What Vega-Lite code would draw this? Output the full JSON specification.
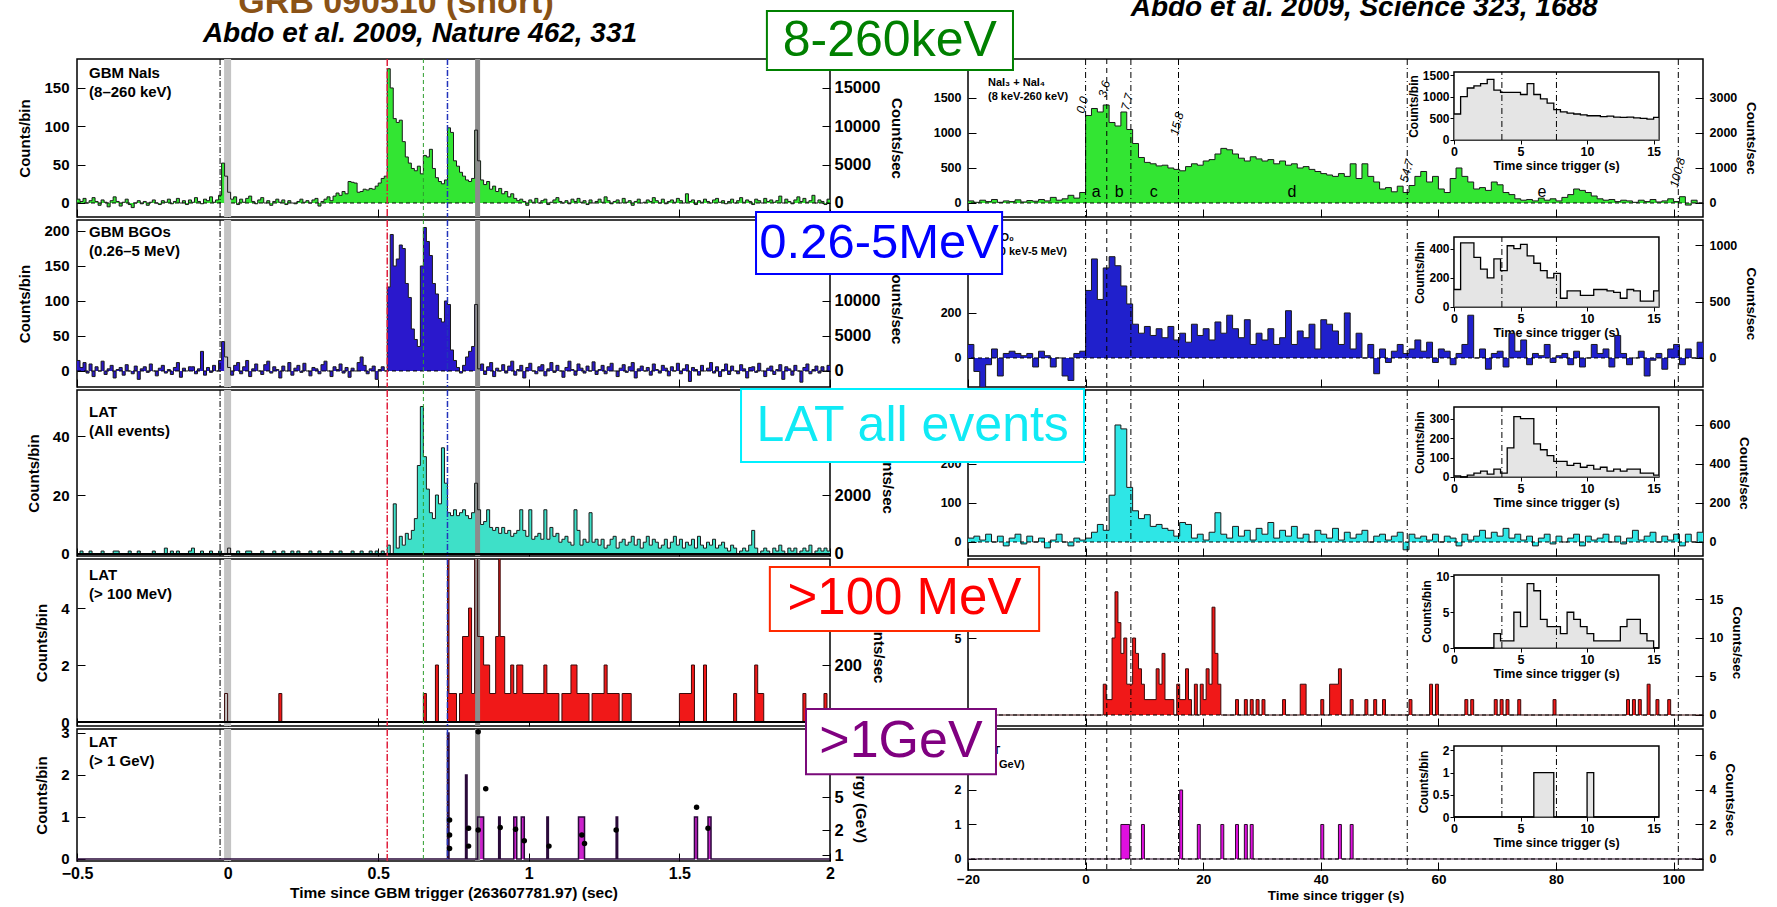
{
"$schema":"https://vega.github.io/schema/vega-lite/v6.json",
"padding":{"left":17,"top":0,"right":0,"bottom":0},
"background":"white",
"columns":2,
"spacing":{"row":3,"column":138},
"bounds":"flush",
"config":{
 "font":"Liberation Sans",
 "view":{"stroke":"#000","strokeWidth":1.5},
 "axis":{"grid":false,"domain":false,"labelFont":"Liberation Sans","labelFontWeight":"bold","labelColor":"#000","titleFont":"Liberation Sans","titleFontWeight":"bold","titleColor":"#000","tickColor":"#000","tickWidth":1,"labelOverlap":false,"labelFlush":false},
 "text":{"font":"Liberation Sans"}
},
"datasets":{
"lp1":[{"t":-0.5,"v":5},{"t":-0.49,"v":2},{"t":-0.48,"v":6},{"t":-0.47,"v":0},{"t":-0.46,"v":3},{"t":-0.45,"v":7},{"t":-0.44,"v":2},{"t":-0.43,"v":-3},{"t":-0.42,"v":4},{"t":-0.41,"v":1},{"t":-0.4,"v":-5},{"t":-0.39,"v":3},{"t":-0.38,"v":8},{"t":-0.37,"v":2},{"t":-0.36,"v":-4},{"t":-0.35,"v":1},{"t":-0.34,"v":5},{"t":-0.33,"v":-2},{"t":-0.32,"v":-6},{"t":-0.31,"v":0},{"t":-0.3,"v":3},{"t":-0.29,"v":-1},{"t":-0.28,"v":2},{"t":-0.27,"v":-3},{"t":-0.26,"v":1},{"t":-0.25,"v":4},{"t":-0.24,"v":0},{"t":-0.23,"v":-2},{"t":-0.22,"v":3},{"t":-0.21,"v":1},{"t":-0.2,"v":5},{"t":-0.19,"v":-1},{"t":-0.18,"v":2},{"t":-0.17,"v":6},{"t":-0.16,"v":0},{"t":-0.15,"v":3},{"t":-0.14,"v":-2},{"t":-0.13,"v":4},{"t":-0.12,"v":1},{"t":-0.11,"v":7},{"t":-0.1,"v":2},{"t":-0.09,"v":-1},{"t":-0.08,"v":5},{"t":-0.07,"v":3},{"t":-0.06,"v":8},{"t":-0.05,"v":1},{"t":-0.04,"v":4},{"t":-0.03,"v":10},{"t":-0.02,"v":52},{"t":-0.01,"v":35},{"t":0,"v":14},{"t":0.01,"v":5},{"t":0.02,"v":8},{"t":0.03,"v":-2},{"t":0.04,"v":5},{"t":0.05,"v":1},{"t":0.06,"v":6},{"t":0.07,"v":9},{"t":0.08,"v":2},{"t":0.09,"v":-1},{"t":0.1,"v":4},{"t":0.11,"v":7},{"t":0.12,"v":0},{"t":0.13,"v":3},{"t":0.14,"v":-3},{"t":0.15,"v":2},{"t":0.16,"v":5},{"t":0.17,"v":1},{"t":0.18,"v":4},{"t":0.19,"v":-2},{"t":0.2,"v":3},{"t":0.21,"v":0},{"t":0.22,"v":-1},{"t":0.23,"v":2},{"t":0.24,"v":5},{"t":0.25,"v":1},{"t":0.26,"v":3},{"t":0.27,"v":0},{"t":0.28,"v":4},{"t":0.29,"v":6},{"t":0.3,"v":-4},{"t":0.31,"v":2},{"t":0.32,"v":5},{"t":0.33,"v":8},{"t":0.34,"v":3},{"t":0.35,"v":9},{"t":0.36,"v":13},{"t":0.37,"v":10},{"t":0.38,"v":15},{"t":0.39,"v":12},{"t":0.4,"v":28},{"t":0.41,"v":27},{"t":0.42,"v":26},{"t":0.43,"v":14},{"t":0.44,"v":15},{"t":0.45,"v":18},{"t":0.46,"v":17},{"t":0.47,"v":19},{"t":0.48,"v":18},{"t":0.49,"v":22},{"t":0.5,"v":26},{"t":0.51,"v":32},{"t":0.52,"v":35},{"t":0.53,"v":175},{"t":0.54,"v":150},{"t":0.55,"v":110},{"t":0.56,"v":105},{"t":0.57,"v":108},{"t":0.58,"v":80},{"t":0.59,"v":60},{"t":0.6,"v":52},{"t":0.61,"v":45},{"t":0.62,"v":42},{"t":0.63,"v":48},{"t":0.64,"v":38},{"t":0.65,"v":62},{"t":0.66,"v":60},{"t":0.67,"v":70},{"t":0.68,"v":45},{"t":0.69,"v":33},{"t":0.7,"v":28},{"t":0.71,"v":25},{"t":0.72,"v":30},{"t":0.73,"v":98},{"t":0.74,"v":92},{"t":0.75,"v":55},{"t":0.76,"v":48},{"t":0.77,"v":40},{"t":0.78,"v":35},{"t":0.79,"v":30},{"t":0.8,"v":28},{"t":0.81,"v":32},{"t":0.82,"v":95},{"t":0.83,"v":55},{"t":0.84,"v":30},{"t":0.85,"v":24},{"t":0.86,"v":28},{"t":0.87,"v":18},{"t":0.88,"v":22},{"t":0.89,"v":15},{"t":0.9,"v":19},{"t":0.91,"v":12},{"t":0.92,"v":15},{"t":0.93,"v":8},{"t":0.94,"v":12},{"t":0.95,"v":6},{"t":0.96,"v":3},{"t":0.97,"v":5},{"t":0.98,"v":2},{"t":0.99,"v":-3},{"t":1,"v":4},{"t":1.01,"v":1},{"t":1.02,"v":6},{"t":1.03,"v":0},{"t":1.04,"v":3},{"t":1.05,"v":5},{"t":1.06,"v":-2},{"t":1.07,"v":1},{"t":1.08,"v":4},{"t":1.09,"v":7},{"t":1.1,"v":2},{"t":1.11,"v":0},{"t":1.12,"v":3},{"t":1.13,"v":-1},{"t":1.14,"v":5},{"t":1.15,"v":2},{"t":1.16,"v":6},{"t":1.17,"v":1},{"t":1.18,"v":3},{"t":1.19,"v":-2},{"t":1.2,"v":4},{"t":1.21,"v":0},{"t":1.22,"v":2},{"t":1.23,"v":5},{"t":1.24,"v":1},{"t":1.25,"v":8},{"t":1.26,"v":3},{"t":1.27,"v":-1},{"t":1.28,"v":2},{"t":1.29,"v":4},{"t":1.3,"v":0},{"t":1.31,"v":6},{"t":1.32,"v":1},{"t":1.33,"v":3},{"t":1.34,"v":-3},{"t":1.35,"v":2},{"t":1.36,"v":5},{"t":1.37,"v":0},{"t":1.38,"v":1},{"t":1.39,"v":4},{"t":1.4,"v":2},{"t":1.41,"v":7},{"t":1.42,"v":3},{"t":1.43,"v":0},{"t":1.44,"v":5},{"t":1.45,"v":-1},{"t":1.46,"v":2},{"t":1.47,"v":4},{"t":1.48,"v":1},{"t":1.49,"v":6},{"t":1.5,"v":3},{"t":1.51,"v":0},{"t":1.52,"v":12},{"t":1.53,"v":2},{"t":1.54,"v":4},{"t":1.55,"v":-2},{"t":1.56,"v":3},{"t":1.57,"v":1},{"t":1.58,"v":5},{"t":1.59,"v":2},{"t":1.6,"v":0},{"t":1.61,"v":4},{"t":1.62,"v":6},{"t":1.63,"v":1},{"t":1.64,"v":3},{"t":1.65,"v":-1},{"t":1.66,"v":2},{"t":1.67,"v":5},{"t":1.68,"v":0},{"t":1.69,"v":3},{"t":1.7,"v":7},{"t":1.71,"v":1},{"t":1.72,"v":4},{"t":1.73,"v":2},{"t":1.74,"v":-2},{"t":1.75,"v":5},{"t":1.76,"v":3},{"t":1.77,"v":0},{"t":1.78,"v":6},{"t":1.79,"v":2},{"t":1.8,"v":4},{"t":1.81,"v":1},{"t":1.82,"v":3},{"t":1.83,"v":9},{"t":1.84,"v":0},{"t":1.85,"v":5},{"t":1.86,"v":2},{"t":1.87,"v":-1},{"t":1.88,"v":4},{"t":1.89,"v":8},{"t":1.9,"v":2},{"t":1.91,"v":6},{"t":1.92,"v":1},{"t":1.93,"v":3},{"t":1.94,"v":10},{"t":1.95,"v":0},{"t":1.96,"v":4},{"t":1.97,"v":2},{"t":1.98,"v":-2},{"t":1.99,"v":5},{"t":2,"v":5}],
"lp2":[{"t":-0.5,"v":15},{"t":-0.49,"v":5},{"t":-0.48,"v":12},{"t":-0.47,"v":-3},{"t":-0.46,"v":10},{"t":-0.45,"v":-8},{"t":-0.44,"v":6},{"t":-0.43,"v":0},{"t":-0.42,"v":14},{"t":-0.41,"v":-5},{"t":-0.4,"v":3},{"t":-0.39,"v":8},{"t":-0.38,"v":-10},{"t":-0.37,"v":2},{"t":-0.36,"v":5},{"t":-0.35,"v":-6},{"t":-0.34,"v":9},{"t":-0.33,"v":0},{"t":-0.32,"v":-4},{"t":-0.31,"v":7},{"t":-0.3,"v":-12},{"t":-0.29,"v":3},{"t":-0.28,"v":6},{"t":-0.27,"v":-2},{"t":-0.26,"v":10},{"t":-0.25,"v":0},{"t":-0.24,"v":-7},{"t":-0.23,"v":4},{"t":-0.22,"v":8},{"t":-0.21,"v":-3},{"t":-0.2,"v":2},{"t":-0.19,"v":-5},{"t":-0.18,"v":5},{"t":-0.17,"v":12},{"t":-0.16,"v":-9},{"t":-0.15,"v":4},{"t":-0.14,"v":0},{"t":-0.13,"v":6},{"t":-0.12,"v":6},{"t":-0.11,"v":-4},{"t":-0.1,"v":3},{"t":-0.09,"v":28},{"t":-0.08,"v":-6},{"t":-0.07,"v":5},{"t":-0.06,"v":-2},{"t":-0.05,"v":8},{"t":-0.04,"v":0},{"t":-0.03,"v":15},{"t":-0.02,"v":42},{"t":-0.01,"v":20},{"t":0,"v":5},{"t":0.01,"v":-6},{"t":0.02,"v":8},{"t":0.03,"v":12},{"t":0.04,"v":-4},{"t":0.05,"v":6},{"t":0.06,"v":15},{"t":0.07,"v":-8},{"t":0.08,"v":3},{"t":0.09,"v":10},{"t":0.1,"v":0},{"t":0.11,"v":-5},{"t":0.12,"v":9},{"t":0.13,"v":14},{"t":0.14,"v":-3},{"t":0.15,"v":6},{"t":0.16,"v":2},{"t":0.17,"v":-10},{"t":0.18,"v":7},{"t":0.19,"v":0},{"t":0.2,"v":12},{"t":0.21,"v":-6},{"t":0.22,"v":4},{"t":0.23,"v":8},{"t":0.24,"v":-2},{"t":0.25,"v":11},{"t":0.26,"v":0},{"t":0.27,"v":-7},{"t":0.28,"v":5},{"t":0.29,"v":3},{"t":0.3,"v":-4},{"t":0.31,"v":9},{"t":0.32,"v":14},{"t":0.33,"v":0},{"t":0.34,"v":-8},{"t":0.35,"v":6},{"t":0.36,"v":2},{"t":0.37,"v":10},{"t":0.38,"v":-3},{"t":0.39,"v":5},{"t":0.4,"v":-9},{"t":0.41,"v":4},{"t":0.42,"v":0},{"t":0.43,"v":12},{"t":0.44,"v":20},{"t":0.45,"v":8},{"t":0.46,"v":-4},{"t":0.47,"v":3},{"t":0.48,"v":7},{"t":0.49,"v":-12},{"t":0.5,"v":2},{"t":0.51,"v":6},{"t":0.52,"v":0},{"t":0.53,"v":120},{"t":0.54,"v":195},{"t":0.55,"v":150},{"t":0.56,"v":160},{"t":0.57,"v":180},{"t":0.58,"v":175},{"t":0.59,"v":125},{"t":0.6,"v":105},{"t":0.61,"v":60},{"t":0.62,"v":45},{"t":0.63,"v":35},{"t":0.64,"v":150},{"t":0.65,"v":205},{"t":0.66,"v":185},{"t":0.67,"v":165},{"t":0.68,"v":125},{"t":0.69,"v":110},{"t":0.7,"v":75},{"t":0.71,"v":70},{"t":0.72,"v":100},{"t":0.73,"v":95},{"t":0.74,"v":30},{"t":0.75,"v":15},{"t":0.76,"v":5},{"t":0.77,"v":-3},{"t":0.78,"v":8},{"t":0.79,"v":20},{"t":0.8,"v":28},{"t":0.81,"v":35},{"t":0.82,"v":95},{"t":0.83,"v":3},{"t":0.84,"v":10},{"t":0.85,"v":-5},{"t":0.86,"v":6},{"t":0.87,"v":12},{"t":0.88,"v":-8},{"t":0.89,"v":4},{"t":0.9,"v":0},{"t":0.91,"v":9},{"t":0.92,"v":-3},{"t":0.93,"v":7},{"t":0.94,"v":14},{"t":0.95,"v":-6},{"t":0.96,"v":2},{"t":0.97,"v":8},{"t":0.98,"v":-10},{"t":0.99,"v":5},{"t":1,"v":11},{"t":1.01,"v":0},{"t":1.02,"v":-4},{"t":1.03,"v":6},{"t":1.04,"v":9},{"t":1.05,"v":-7},{"t":1.06,"v":3},{"t":1.07,"v":12},{"t":1.08,"v":-2},{"t":1.09,"v":8},{"t":1.1,"v":0},{"t":1.11,"v":-9},{"t":1.12,"v":5},{"t":1.13,"v":14},{"t":1.14,"v":2},{"t":1.15,"v":-6},{"t":1.16,"v":10},{"t":1.17,"v":4},{"t":1.18,"v":-3},{"t":1.19,"v":7},{"t":1.2,"v":0},{"t":1.21,"v":13},{"t":1.22,"v":-5},{"t":1.23,"v":2},{"t":1.24,"v":8},{"t":1.25,"v":-4},{"t":1.26,"v":6},{"t":1.27,"v":11},{"t":1.28,"v":0},{"t":1.29,"v":-8},{"t":1.3,"v":4},{"t":1.31,"v":9},{"t":1.32,"v":-2},{"t":1.33,"v":6},{"t":1.34,"v":12},{"t":1.35,"v":-10},{"t":1.36,"v":3},{"t":1.37,"v":7},{"t":1.38,"v":0},{"t":1.39,"v":5},{"t":1.4,"v":-6},{"t":1.41,"v":10},{"t":1.42,"v":2},{"t":1.43,"v":-3},{"t":1.44,"v":8},{"t":1.45,"v":4},{"t":1.46,"v":-7},{"t":1.47,"v":6},{"t":1.48,"v":0},{"t":1.49,"v":11},{"t":1.5,"v":-4},{"t":1.51,"v":3},{"t":1.52,"v":9},{"t":1.53,"v":-15},{"t":1.54,"v":5},{"t":1.55,"v":2},{"t":1.56,"v":-6},{"t":1.57,"v":8},{"t":1.58,"v":0},{"t":1.59,"v":4},{"t":1.6,"v":12},{"t":1.61,"v":-3},{"t":1.62,"v":6},{"t":1.63,"v":-8},{"t":1.64,"v":2},{"t":1.65,"v":10},{"t":1.66,"v":-5},{"t":1.67,"v":7},{"t":1.68,"v":0},{"t":1.69,"v":-4},{"t":1.7,"v":9},{"t":1.71,"v":3},{"t":1.72,"v":-10},{"t":1.73,"v":5},{"t":1.74,"v":6},{"t":1.75,"v":-2},{"t":1.76,"v":11},{"t":1.77,"v":0},{"t":1.78,"v":-8},{"t":1.79,"v":4},{"t":1.8,"v":7},{"t":1.81,"v":-5},{"t":1.82,"v":2},{"t":1.83,"v":9},{"t":1.84,"v":-12},{"t":1.85,"v":6},{"t":1.86,"v":3},{"t":1.87,"v":-6},{"t":1.88,"v":8},{"t":1.89,"v":0},{"t":1.9,"v":-16},{"t":1.91,"v":5},{"t":1.92,"v":10},{"t":1.93,"v":-4},{"t":1.94,"v":2},{"t":1.95,"v":7},{"t":1.96,"v":-3},{"t":1.97,"v":6},{"t":1.98,"v":0},{"t":1.99,"v":8},{"t":2,"v":8}],
"lp3":[{"t":-0.5,"v":0},{"t":-0.49,"v":1},{"t":-0.48,"v":0},{"t":-0.46,"v":1},{"t":-0.45,"v":0},{"t":-0.42,"v":1},{"t":-0.41,"v":0},{"t":-0.38,"v":1},{"t":-0.36,"v":0},{"t":-0.33,"v":1},{"t":-0.32,"v":0},{"t":-0.3,"v":1},{"t":-0.29,"v":0},{"t":-0.25,"v":1},{"t":-0.24,"v":0},{"t":-0.21,"v":2},{"t":-0.2,"v":0},{"t":-0.19,"v":1},{"t":-0.18,"v":0},{"t":-0.17,"v":1},{"t":-0.16,"v":0},{"t":-0.13,"v":1},{"t":-0.12,"v":2},{"t":-0.11,"v":0},{"t":-0.09,"v":1},{"t":-0.08,"v":0},{"t":-0.06,"v":1},{"t":-0.05,"v":0},{"t":-0.03,"v":1},{"t":-0.02,"v":0},{"t":0,"v":2},{"t":0.01,"v":0},{"t":0.03,"v":1},{"t":0.04,"v":0},{"t":0.06,"v":1},{"t":0.08,"v":0},{"t":0.11,"v":1},{"t":0.12,"v":0},{"t":0.15,"v":1},{"t":0.16,"v":0},{"t":0.18,"v":1},{"t":0.19,"v":0},{"t":0.21,"v":1},{"t":0.22,"v":0},{"t":0.23,"v":1},{"t":0.24,"v":0},{"t":0.27,"v":1},{"t":0.28,"v":0},{"t":0.3,"v":1},{"t":0.31,"v":0},{"t":0.34,"v":1},{"t":0.35,"v":0},{"t":0.37,"v":1},{"t":0.38,"v":0},{"t":0.41,"v":1},{"t":0.42,"v":0},{"t":0.44,"v":1},{"t":0.45,"v":0},{"t":0.47,"v":1},{"t":0.48,"v":0},{"t":0.49,"v":1},{"t":0.5,"v":0},{"t":0.51,"v":1},{"t":0.52,"v":0},{"t":0.53,"v":3},{"t":0.54,"v":0},{"t":0.55,"v":17},{"t":0.56,"v":2},{"t":0.57,"v":6},{"t":0.58,"v":3},{"t":0.59,"v":7},{"t":0.6,"v":5},{"t":0.61,"v":8},{"t":0.62,"v":12},{"t":0.63,"v":30},{"t":0.64,"v":50},{"t":0.65,"v":33},{"t":0.66,"v":22},{"t":0.67,"v":14},{"t":0.68,"v":12},{"t":0.69,"v":20},{"t":0.7,"v":17},{"t":0.71,"v":36},{"t":0.72,"v":24},{"t":0.73,"v":14},{"t":0.74,"v":13},{"t":0.75,"v":15},{"t":0.76,"v":13},{"t":0.77,"v":14},{"t":0.78,"v":15},{"t":0.79,"v":13},{"t":0.8,"v":12},{"t":0.81,"v":14},{"t":0.82,"v":24},{"t":0.83,"v":15},{"t":0.84,"v":10},{"t":0.85,"v":11},{"t":0.86,"v":15},{"t":0.87,"v":9},{"t":0.88,"v":8},{"t":0.89,"v":9},{"t":0.9,"v":7},{"t":0.91,"v":9},{"t":0.92,"v":7},{"t":0.93,"v":8},{"t":0.94,"v":6},{"t":0.95,"v":7},{"t":0.96,"v":8},{"t":0.97,"v":15},{"t":0.98,"v":8},{"t":0.99,"v":6},{"t":1,"v":15},{"t":1.01,"v":5},{"t":1.02,"v":6},{"t":1.03,"v":7},{"t":1.04,"v":5},{"t":1.05,"v":15},{"t":1.06,"v":5},{"t":1.07,"v":9},{"t":1.08,"v":6},{"t":1.09,"v":7},{"t":1.1,"v":4},{"t":1.11,"v":5},{"t":1.12,"v":6},{"t":1.13,"v":4},{"t":1.14,"v":3},{"t":1.15,"v":15},{"t":1.16,"v":8},{"t":1.17,"v":3},{"t":1.18,"v":5},{"t":1.19,"v":4},{"t":1.2,"v":14},{"t":1.21,"v":4},{"t":1.22,"v":5},{"t":1.23,"v":3},{"t":1.24,"v":5},{"t":1.25,"v":2},{"t":1.26,"v":3},{"t":1.27,"v":5},{"t":1.28,"v":6},{"t":1.29,"v":2},{"t":1.3,"v":4},{"t":1.31,"v":5},{"t":1.32,"v":3},{"t":1.33,"v":4},{"t":1.34,"v":6},{"t":1.35,"v":3},{"t":1.36,"v":5},{"t":1.37,"v":2},{"t":1.38,"v":4},{"t":1.39,"v":6},{"t":1.4,"v":3},{"t":1.41,"v":5},{"t":1.42,"v":4},{"t":1.43,"v":2},{"t":1.44,"v":3},{"t":1.45,"v":5},{"t":1.46,"v":2},{"t":1.47,"v":4},{"t":1.48,"v":6},{"t":1.49,"v":3},{"t":1.5,"v":5},{"t":1.51,"v":2},{"t":1.52,"v":4},{"t":1.53,"v":3},{"t":1.54,"v":5},{"t":1.55,"v":2},{"t":1.56,"v":6},{"t":1.57,"v":3},{"t":1.58,"v":2},{"t":1.59,"v":4},{"t":1.6,"v":3},{"t":1.61,"v":5},{"t":1.62,"v":2},{"t":1.63,"v":3},{"t":1.64,"v":4},{"t":1.65,"v":2},{"t":1.66,"v":1},{"t":1.67,"v":3},{"t":1.68,"v":2},{"t":1.69,"v":0},{"t":1.7,"v":1},{"t":1.71,"v":2},{"t":1.72,"v":1},{"t":1.73,"v":3},{"t":1.74,"v":8},{"t":1.75,"v":2},{"t":1.76,"v":0},{"t":1.77,"v":1},{"t":1.78,"v":2},{"t":1.79,"v":1},{"t":1.8,"v":0},{"t":1.81,"v":2},{"t":1.82,"v":1},{"t":1.83,"v":3},{"t":1.84,"v":1},{"t":1.85,"v":0},{"t":1.86,"v":2},{"t":1.87,"v":1},{"t":1.88,"v":2},{"t":1.89,"v":0},{"t":1.9,"v":1},{"t":1.91,"v":2},{"t":1.92,"v":1},{"t":1.93,"v":3},{"t":1.94,"v":0},{"t":1.95,"v":1},{"t":1.96,"v":2},{"t":1.97,"v":1},{"t":1.98,"v":2},{"t":1.99,"v":1},{"t":2,"v":1}],
"lp4":[{"t":-0.5,"v":0},{"t":-0.01,"v":1},{"t":0,"v":0},{"t":0.17,"v":1},{"t":0.18,"v":0},{"t":0.65,"v":1},{"t":0.66,"v":0},{"t":0.69,"v":2},{"t":0.7,"v":0},{"t":0.73,"v":6},{"t":0.735,"v":1},{"t":0.76,"v":0},{"t":0.77,"v":1},{"t":0.78,"v":3},{"t":0.8,"v":4},{"t":0.81,"v":1},{"t":0.82,"v":6},{"t":0.83,"v":3},{"t":0.85,"v":2},{"t":0.87,"v":1},{"t":0.89,"v":3},{"t":0.9,"v":6},{"t":0.905,"v":3},{"t":0.92,"v":1},{"t":0.94,"v":2},{"t":0.95,"v":1},{"t":0.96,"v":2},{"t":0.98,"v":1},{"t":1.05,"v":2},{"t":1.06,"v":1},{"t":1.1,"v":0},{"t":1.11,"v":1},{"t":1.14,"v":2},{"t":1.16,"v":1},{"t":1.2,"v":0},{"t":1.21,"v":1},{"t":1.25,"v":2},{"t":1.26,"v":1},{"t":1.3,"v":0},{"t":1.31,"v":1},{"t":1.34,"v":0},{"t":1.5,"v":1},{"t":1.54,"v":2},{"t":1.55,"v":0},{"t":1.58,"v":2},{"t":1.59,"v":0},{"t":1.68,"v":1},{"t":1.69,"v":0},{"t":1.75,"v":2},{"t":1.76,"v":1},{"t":1.78,"v":0},{"t":1.91,"v":1},{"t":1.92,"v":0},{"t":1.98,"v":1},{"t":1.99,"v":0},{"t":2,"v":0}],
"lp5":[{"t":-0.5,"v":0},{"t":0.73,"v":3},{"t":0.735,"v":0},{"t":0.79,"v":2},{"t":0.795,"v":0},{"t":0.83,"v":1},{"t":0.85,"v":0},{"t":0.9,"v":1},{"t":0.905,"v":0},{"t":0.95,"v":1},{"t":0.96,"v":0},{"t":0.975,"v":1},{"t":0.985,"v":0},{"t":1.06,"v":1},{"t":1.065,"v":0},{"t":1.165,"v":1},{"t":1.185,"v":0},{"t":1.29,"v":1},{"t":1.295,"v":0},{"t":1.55,"v":1},{"t":1.56,"v":0},{"t":1.595,"v":1},{"t":1.605,"v":0},{"t":2,"v":0}],
"ld":[{"t":0.737,"e":2.64},{"t":0.737,"e":1.74},{"t":0.737,"e":1.2},{"t":0.8,"e":2.1},{"t":0.8,"e":1.28},{"t":0.832,"e":30.6},{"t":0.832,"e":2.0},{"t":0.857,"e":6.3},{"t":0.905,"e":2.15},{"t":0.956,"e":2.04},{"t":0.985,"e":1.49},{"t":1.067,"e":1.28},{"t":1.176,"e":1.74},{"t":1.185,"e":1.38},{"t":1.29,"e":2.0},{"t":1.557,"e":3.76},{"t":1.595,"e":2.1}],
"rp1":[{"t":-20,"v":30},{"t":-19,"v":10},{"t":-18,"v":40},{"t":-17,"v":20},{"t":-16,"v":50},{"t":-15,"v":10},{"t":-14,"v":30},{"t":-13,"v":20},{"t":-12,"v":45},{"t":-11,"v":15},{"t":-10,"v":35},{"t":-9,"v":25},{"t":-8,"v":50},{"t":-7,"v":30},{"t":-6,"v":80},{"t":-5,"v":40},{"t":-4,"v":60},{"t":-3,"v":110},{"t":-2,"v":70},{"t":-1,"v":150},{"t":0,"v":1250},{"t":1,"v":1350},{"t":2,"v":1300},{"t":3,"v":1400},{"t":4,"v":1150},{"t":5,"v":1100},{"t":6,"v":1300},{"t":7,"v":1050},{"t":8,"v":850},{"t":9,"v":650},{"t":10,"v":580},{"t":11,"v":560},{"t":12,"v":530},{"t":13,"v":540},{"t":14,"v":500},{"t":15,"v":480},{"t":16,"v":460},{"t":17,"v":520},{"t":18,"v":560},{"t":19,"v":540},{"t":20,"v":600},{"t":21,"v":620},{"t":22,"v":700},{"t":23,"v":780},{"t":24,"v":760},{"t":25,"v":700},{"t":26,"v":640},{"t":27,"v":600},{"t":28,"v":660},{"t":29,"v":630},{"t":30,"v":600},{"t":31,"v":620},{"t":32,"v":560},{"t":33,"v":600},{"t":34,"v":540},{"t":35,"v":560},{"t":36,"v":500},{"t":37,"v":520},{"t":38,"v":480},{"t":39,"v":450},{"t":40,"v":420},{"t":41,"v":400},{"t":42,"v":380},{"t":43,"v":420},{"t":44,"v":380},{"t":45,"v":560},{"t":46,"v":350},{"t":47,"v":560},{"t":48,"v":380},{"t":49,"v":300},{"t":50,"v":200},{"t":51,"v":220},{"t":52,"v":160},{"t":53,"v":240},{"t":54,"v":150},{"t":55,"v":250},{"t":56,"v":380},{"t":57,"v":450},{"t":58,"v":300},{"t":59,"v":380},{"t":60,"v":200},{"t":61,"v":150},{"t":62,"v":350},{"t":63,"v":500},{"t":64,"v":380},{"t":65,"v":300},{"t":66,"v":200},{"t":67,"v":220},{"t":68,"v":180},{"t":69,"v":300},{"t":70,"v":260},{"t":71,"v":150},{"t":72,"v":120},{"t":73,"v":60},{"t":74,"v":40},{"t":75,"v":50},{"t":76,"v":30},{"t":77,"v":70},{"t":78,"v":40},{"t":79,"v":60},{"t":80,"v":30},{"t":81,"v":80},{"t":82,"v":120},{"t":83,"v":200},{"t":84,"v":180},{"t":85,"v":150},{"t":86,"v":100},{"t":87,"v":60},{"t":88,"v":40},{"t":89,"v":50},{"t":90,"v":20},{"t":91,"v":40},{"t":92,"v":30},{"t":93,"v":10},{"t":94,"v":40},{"t":95,"v":20},{"t":96,"v":50},{"t":97,"v":15},{"t":98,"v":30},{"t":99,"v":60},{"t":100,"v":20},{"t":101,"v":90},{"t":102,"v":-30},{"t":103,"v":40},{"t":104,"v":0},{"t":105,"v":0}],
"rp2":[{"t":-20,"v":60},{"t":-19,"v":-60},{"t":-18,"v":-130},{"t":-17,"v":-30},{"t":-16,"v":40},{"t":-15,"v":-80},{"t":-14,"v":20},{"t":-13,"v":30},{"t":-12,"v":20},{"t":-11,"v":10},{"t":-10,"v":20},{"t":-9,"v":-40},{"t":-8,"v":30},{"t":-7,"v":10},{"t":-6,"v":-40},{"t":-5,"v":0},{"t":-4,"v":-80},{"t":-3,"v":-100},{"t":-2,"v":20},{"t":-1,"v":30},{"t":0,"v":300},{"t":1,"v":440},{"t":2,"v":260},{"t":3,"v":400},{"t":4,"v":450},{"t":5,"v":410},{"t":6,"v":320},{"t":7,"v":240},{"t":8,"v":150},{"t":9,"v":110},{"t":10,"v":140},{"t":11,"v":100},{"t":12,"v":130},{"t":13,"v":90},{"t":14,"v":140},{"t":15,"v":80},{"t":16,"v":110},{"t":17,"v":70},{"t":18,"v":150},{"t":19,"v":100},{"t":20,"v":130},{"t":21,"v":80},{"t":22,"v":160},{"t":23,"v":110},{"t":24,"v":190},{"t":25,"v":130},{"t":26,"v":90},{"t":27,"v":170},{"t":28,"v":60},{"t":29,"v":110},{"t":30,"v":80},{"t":31,"v":130},{"t":32,"v":60},{"t":33,"v":90},{"t":34,"v":210},{"t":35,"v":60},{"t":36,"v":120},{"t":37,"v":90},{"t":38,"v":150},{"t":39,"v":40},{"t":40,"v":170},{"t":41,"v":150},{"t":42,"v":120},{"t":43,"v":60},{"t":44,"v":200},{"t":45,"v":40},{"t":46,"v":110},{"t":47,"v":0},{"t":48,"v":60},{"t":49,"v":-70},{"t":50,"v":40},{"t":51,"v":-20},{"t":52,"v":30},{"t":53,"v":60},{"t":54,"v":20},{"t":55,"v":40},{"t":56,"v":80},{"t":57,"v":30},{"t":58,"v":70},{"t":59,"v":-20},{"t":60,"v":40},{"t":61,"v":30},{"t":62,"v":-30},{"t":63,"v":20},{"t":64,"v":60},{"t":65,"v":190},{"t":66,"v":0},{"t":67,"v":40},{"t":68,"v":-50},{"t":69,"v":20},{"t":70,"v":30},{"t":71,"v":-40},{"t":72,"v":110},{"t":73,"v":30},{"t":74,"v":80},{"t":75,"v":-30},{"t":76,"v":20},{"t":77,"v":10},{"t":78,"v":60},{"t":79,"v":-20},{"t":80,"v":10},{"t":81,"v":20},{"t":82,"v":-30},{"t":83,"v":30},{"t":84,"v":-40},{"t":85,"v":0},{"t":86,"v":60},{"t":87,"v":20},{"t":88,"v":40},{"t":89,"v":-40},{"t":90,"v":100},{"t":91,"v":20},{"t":92,"v":-30},{"t":93,"v":0},{"t":94,"v":30},{"t":95,"v":-80},{"t":96,"v":-10},{"t":97,"v":20},{"t":98,"v":-50},{"t":99,"v":40},{"t":100,"v":60},{"t":101,"v":-30},{"t":102,"v":40},{"t":103,"v":0},{"t":104,"v":70},{"t":105,"v":70}],
"rp3":[{"t":-20,"v":10},{"t":-19,"v":15},{"t":-18,"v":5},{"t":-17,"v":20},{"t":-16,"v":0},{"t":-15,"v":15},{"t":-14,"v":-10},{"t":-13,"v":10},{"t":-12,"v":20},{"t":-11,"v":-5},{"t":-10,"v":15},{"t":-9,"v":0},{"t":-8,"v":10},{"t":-7,"v":-15},{"t":-6,"v":5},{"t":-5,"v":20},{"t":-4,"v":0},{"t":-3,"v":-10},{"t":-2,"v":10},{"t":-1,"v":5},{"t":0,"v":10},{"t":1,"v":25},{"t":2,"v":45},{"t":3,"v":30},{"t":4,"v":120},{"t":5,"v":300},{"t":6,"v":290},{"t":7,"v":140},{"t":8,"v":80},{"t":9,"v":60},{"t":10,"v":70},{"t":11,"v":40},{"t":12,"v":45},{"t":13,"v":35},{"t":14,"v":30},{"t":15,"v":15},{"t":16,"v":50},{"t":17,"v":45},{"t":18,"v":10},{"t":19,"v":20},{"t":20,"v":5},{"t":21,"v":25},{"t":22,"v":75},{"t":23,"v":20},{"t":24,"v":10},{"t":25,"v":40},{"t":26,"v":15},{"t":27,"v":30},{"t":28,"v":5},{"t":29,"v":35},{"t":30,"v":20},{"t":31,"v":50},{"t":32,"v":10},{"t":33,"v":30},{"t":34,"v":15},{"t":35,"v":40},{"t":36,"v":10},{"t":37,"v":20},{"t":38,"v":0},{"t":39,"v":30},{"t":40,"v":20},{"t":41,"v":10},{"t":42,"v":35},{"t":43,"v":5},{"t":44,"v":25},{"t":45,"v":10},{"t":46,"v":20},{"t":47,"v":30},{"t":48,"v":0},{"t":49,"v":15},{"t":50,"v":20},{"t":51,"v":5},{"t":52,"v":15},{"t":53,"v":25},{"t":54,"v":-20},{"t":55,"v":20},{"t":56,"v":10},{"t":57,"v":15},{"t":58,"v":5},{"t":59,"v":20},{"t":60,"v":0},{"t":61,"v":15},{"t":62,"v":10},{"t":63,"v":-10},{"t":64,"v":20},{"t":65,"v":5},{"t":66,"v":15},{"t":67,"v":30},{"t":68,"v":10},{"t":69,"v":25},{"t":70,"v":15},{"t":71,"v":35},{"t":72,"v":10},{"t":73,"v":20},{"t":74,"v":5},{"t":75,"v":15},{"t":76,"v":-10},{"t":77,"v":10},{"t":78,"v":20},{"t":79,"v":-5},{"t":80,"v":15},{"t":81,"v":0},{"t":82,"v":10},{"t":83,"v":20},{"t":84,"v":-10},{"t":85,"v":15},{"t":86,"v":5},{"t":87,"v":10},{"t":88,"v":20},{"t":89,"v":0},{"t":90,"v":15},{"t":91,"v":-5},{"t":92,"v":10},{"t":93,"v":30},{"t":94,"v":5},{"t":95,"v":15},{"t":96,"v":25},{"t":97,"v":0},{"t":98,"v":15},{"t":99,"v":5},{"t":100,"v":20},{"t":101,"v":-10},{"t":102,"v":20},{"t":103,"v":0},{"t":104,"v":25},{"t":105,"v":25}],
"rp4":[{"t":-20,"v":0},{"t":3,"v":2},{"t":3.5,"v":1},{"t":4.5,"v":5},{"t":5,"v":8},{"t":5.5,"v":6},{"t":6,"v":4},{"t":6.5,"v":5},{"t":7,"v":2},{"t":8,"v":5},{"t":8.5,"v":4},{"t":9,"v":3},{"t":9.5,"v":2},{"t":10,"v":1},{"t":12,"v":3},{"t":12.5,"v":2},{"t":13,"v":4},{"t":13.5,"v":1},{"t":15,"v":0},{"t":15.5,"v":2},{"t":16,"v":1},{"t":17,"v":3},{"t":17.5,"v":1},{"t":18,"v":0},{"t":18.5,"v":2},{"t":19,"v":0},{"t":19.5,"v":2},{"t":20,"v":1},{"t":20.5,"v":3},{"t":21,"v":2},{"t":21.5,"v":7},{"t":22,"v":4},{"t":22.5,"v":2},{"t":23,"v":0},{"t":25.5,"v":1},{"t":26,"v":0},{"t":27,"v":1},{"t":27.5,"v":0},{"t":28,"v":1},{"t":28.5,"v":0},{"t":29,"v":1},{"t":29.5,"v":0},{"t":30,"v":1},{"t":30.5,"v":0},{"t":33.5,"v":1},{"t":34,"v":0},{"t":36.5,"v":2},{"t":37.5,"v":0},{"t":40,"v":1},{"t":40.5,"v":0},{"t":41.5,"v":2},{"t":43,"v":3},{"t":43.5,"v":0},{"t":45,"v":1},{"t":45.5,"v":0},{"t":47.5,"v":1},{"t":48,"v":0},{"t":49,"v":1},{"t":49.5,"v":0},{"t":50.5,"v":1},{"t":51,"v":0},{"t":55,"v":1},{"t":55.5,"v":0},{"t":58.5,"v":2},{"t":59,"v":0},{"t":59.5,"v":2},{"t":60,"v":0},{"t":64.5,"v":1},{"t":65,"v":0},{"t":65.5,"v":1},{"t":66,"v":0},{"t":69.5,"v":1},{"t":70,"v":0},{"t":70.5,"v":1},{"t":71,"v":0},{"t":71.5,"v":1},{"t":72,"v":0},{"t":73.5,"v":1},{"t":74,"v":0},{"t":79.5,"v":1},{"t":80,"v":0},{"t":92,"v":1},{"t":92.5,"v":0},{"t":93,"v":1},{"t":93.5,"v":0},{"t":94,"v":1},{"t":94.5,"v":0},{"t":95.5,"v":2},{"t":96,"v":0},{"t":97,"v":1},{"t":97.5,"v":0},{"t":99,"v":1},{"t":99.5,"v":0},{"t":105,"v":0}],
"rp5":[{"t":-20,"v":0},{"t":6,"v":1},{"t":7.5,"v":0},{"t":9.5,"v":1},{"t":10,"v":0},{"t":16,"v":2},{"t":16.5,"v":0},{"t":19,"v":1},{"t":19.5,"v":0},{"t":23,"v":1},{"t":23.5,"v":0},{"t":25.5,"v":1},{"t":26,"v":0},{"t":27,"v":1},{"t":27.5,"v":0},{"t":28,"v":1},{"t":28.5,"v":0},{"t":40,"v":1},{"t":40.5,"v":0},{"t":43,"v":1},{"t":43.5,"v":0},{"t":45,"v":1},{"t":45.5,"v":0},{"t":105,"v":0}],
"ri1":[{"t":0,"v":600},{"t":0.5,"v":1000},{"t":1,"v":1200},{"t":1.5,"v":1250},{"t":2,"v":1300},{"t":2.5,"v":1400},{"t":3,"v":1150},{"t":3.5,"v":1100},{"t":4,"v":1100},{"t":4.5,"v":1100},{"t":5,"v":1050},{"t":5.5,"v":1300},{"t":6,"v":1050},{"t":6.5,"v":950},{"t":7,"v":850},{"t":7.5,"v":700},{"t":8,"v":650},{"t":8.5,"v":620},{"t":9,"v":600},{"t":9.5,"v":580},{"t":10,"v":560},{"t":10.5,"v":560},{"t":11,"v":540},{"t":11.5,"v":550},{"t":12,"v":530},{"t":12.5,"v":520},{"t":13,"v":530},{"t":13.5,"v":510},{"t":14,"v":500},{"t":14.5,"v":480},{"t":15,"v":520},{"t":15.4,"v":520}],
"ri2":[{"t":0,"v":120},{"t":0.5,"v":440},{"t":1,"v":440},{"t":1.5,"v":340},{"t":2,"v":260},{"t":2.5,"v":200},{"t":3,"v":330},{"t":3.5,"v":250},{"t":4,"v":420},{"t":4.5,"v":400},{"t":5,"v":430},{"t":5.5,"v":350},{"t":6,"v":300},{"t":6.5,"v":250},{"t":7,"v":200},{"t":7.5,"v":230},{"t":8,"v":60},{"t":8.5,"v":110},{"t":9,"v":110},{"t":9.5,"v":80},{"t":10,"v":80},{"t":10.5,"v":120},{"t":11,"v":120},{"t":11.5,"v":110},{"t":12,"v":100},{"t":12.5,"v":60},{"t":13,"v":120},{"t":13.5,"v":110},{"t":14,"v":40},{"t":14.5,"v":40},{"t":15,"v":110},{"t":15.4,"v":110}],
"ri3":[{"t":0,"v":5},{"t":0.5,"v":0},{"t":1,"v":10},{"t":1.5,"v":20},{"t":2,"v":30},{"t":2.5,"v":15},{"t":3,"v":40},{"t":3.5,"v":20},{"t":4,"v":150},{"t":4.5,"v":310},{"t":5,"v":300},{"t":5.5,"v":300},{"t":6,"v":170},{"t":6.5,"v":140},{"t":7,"v":110},{"t":7.5,"v":80},{"t":8,"v":80},{"t":8.5,"v":60},{"t":9,"v":70},{"t":9.5,"v":50},{"t":10,"v":60},{"t":10.5,"v":40},{"t":11,"v":50},{"t":11.5,"v":30},{"t":12,"v":40},{"t":12.5,"v":30},{"t":13,"v":40},{"t":13.5,"v":40},{"t":14,"v":20},{"t":14.5,"v":20},{"t":15,"v":10},{"t":15.4,"v":10}],
"ri4":[{"t":0,"v":0},{"t":3,"v":2},{"t":3.5,"v":1},{"t":4.5,"v":5},{"t":5,"v":3},{"t":5.5,"v":9},{"t":6,"v":8},{"t":6.5,"v":4},{"t":7,"v":3},{"t":8,"v":2},{"t":8.5,"v":5},{"t":9,"v":4},{"t":9.5,"v":3},{"t":10,"v":2},{"t":10.5,"v":1},{"t":12.5,"v":3},{"t":13,"v":4},{"t":14,"v":2},{"t":14.5,"v":1},{"t":15,"v":0},{"t":15.4,"v":0}],
"ri5":[{"t":0,"v":0},{"t":6,"v":1},{"t":7.5,"v":0},{"t":10,"v":1},{"t":10.5,"v":0},{"t":15.4,"v":0}],
"rv":[{"t":0},{"t":7.7},{"t":15.8},{"t":54.7},{"t":100.8}],
"iv":[{"t":3.6},{"t":7.7}],
"rl":[{"t":1.8,"s":"a"},{"t":5.7,"s":"b"},{"t":11.6,"s":"c"},{"t":35.1,"s":"d"},{"t":77.6,"s":"e"}]
},
"concat":[
 {"width":753,"height":56,"view":{"stroke":null},"layer":[
  {"data":{"values":[{}]},"mark":{"type":"text","text":"GRB 090510 (short)","fontSize":34,"fontWeight":"bold","color":"#8a5216","align":"center","baseline":"alphabetic","clip":true},"encoding":{"x":{"datum":0.4236,"type":"quantitative","scale":{"domain":[0,1]},"axis":null},"y":{"datum":0.768,"type":"quantitative","scale":{"domain":[0,1]},"axis":null}}},
  {"data":{"values":[{}]},"mark":{"type":"text","text":"Abdo et al. 2009, Nature 462, 331","fontSize":28,"fontWeight":"bold","fontStyle":"italic","color":"#000","align":"center","baseline":"middle"},"encoding":{"x":{"datum":0.4555,"type":"quantitative"},"y":{"datum":0.393,"type":"quantitative"}}}
 ]},
 {"width":735,"height":56,"view":{"stroke":null},"layer":[
  {"data":{"values":[{}]},"mark":{"type":"text","text":"Abdo et al. 2009, Science 323, 1688","fontSize":28,"fontWeight":"bold","fontStyle":"italic","color":"#000","align":"center","baseline":"alphabetic","clip":true},"encoding":{"x":{"datum":0.539,"type":"quantitative","scale":{"domain":[0,1]},"axis":null},"y":{"datum":0.714,"type":"quantitative","scale":{"domain":[0,1]},"axis":null}}}
 ]},
 {"width":753,"height":158,"layer":[
  {"layer":[
   {"data":{"name":"lp1"},"mark":{"type":"area","interpolate":"step-after","color":"#33e533","clip":true},"encoding":{"x":{"field":"t","type":"quantitative","scale":{"domain":[-0.5,2],"nice":false,"zero":false},"axis":{"orient":"bottom","values":[-0.5,0,0.5,1,1.5,2],"labels":false,"tickSize":-8,"title":null}},"y":{"field":"v","type":"quantitative","scale":{"domain":[-18.25,187.7],"nice":false,"zero":false},"axis":{"orient":"left","values":[0,50,100,150],"format":"d","tickSize":-8,"labelPadding":16,"labelFontSize":15,"title":"Counts/bin","titleFontSize":15,"titlePadding":11}},"y2":{"datum":0}}},
   {"data":{"values":[{}]},"mark":{"type":"rule","color":"#000","strokeDash":[4,3],"strokeWidth":1},"encoding":{"y":{"datum":0}}},
   {"data":{"values":[{}]},"mark":{"type":"rule","color":"#c4c4c4","strokeWidth":7},"encoding":{"x":{"datum":0}}},
   {"data":{"values":[{}]},"mark":{"type":"rule","color":"#8c8c8c","strokeWidth":5},"encoding":{"x":{"datum":0.83}}},
   {"data":{"name":"lp1"},"mark":{"type":"line","interpolate":"step-after","color":"#1a1a1a","strokeWidth":1,"clip":true},"encoding":{"x":{"field":"t","type":"quantitative"},"y":{"field":"v","type":"quantitative"}}},
   {"data":{"values":[{}]},"mark":{"type":"rule","color":"#000","strokeDash":[6,2,1,2],"strokeWidth":1},"encoding":{"x":{"datum":-0.025}}},
   {"data":{"values":[{}]},"mark":{"type":"rule","color":"#e0203c","strokeDash":[7,2,1.5,2],"strokeWidth":1.5},"encoding":{"x":{"datum":0.53}}},
   {"data":{"values":[{}]},"mark":{"type":"rule","color":"#2e9e2e","strokeDash":[4,3],"strokeWidth":1},"encoding":{"x":{"datum":0.65}}},
   {"data":{"values":[{}]},"mark":{"type":"rule","color":"#2233bb","strokeDash":[6,2,1,2],"strokeWidth":1.5},"encoding":{"x":{"datum":0.73}}},
   {"data":{"values":[{}]},"mark":{"type":"text","text":["GBM NaIs","(8–260 keV)"],"align":"left","baseline":"top","fontSize":15,"fontWeight":"bold","lineHeight":19},"encoding":{"x":{"datum":-0.46},"y":{"datum":179}}}
  ]},
  {"data":{"values":[{}]},"mark":{"type":"rule","strokeOpacity":0},"encoding":{"y":{"datum":0,"type":"quantitative","scale":{"domain":[-1825,18770],"nice":false,"zero":false},"axis":{"orient":"right","values":[0,5000,10000,15000],"format":"d","tickSize":-8,"labelPadding":12,"labelFontSize":16.5,"title":"Counts/sec","titleFontSize":15,"titlePadding":9}}}}
 ],"resolve":{"scale":{"y":"independent"}}},
 {"width":735,"height":158,"layer":[
  {"layer":[
   {"data":{"name":"rp1"},"mark":{"type":"area","interpolate":"step-after","color":"#33e533","clip":true},"encoding":{"x":{"field":"t","type":"quantitative","scale":{"domain":[-20,105],"nice":false,"zero":false},"axis":{"orient":"bottom","values":[-20,0,20,40,60,80,100],"labels":false,"tickSize":-8,"title":null}},"y":{"field":"v","type":"quantitative","scale":{"domain":[-200,2057],"nice":false,"zero":false},"axis":{"orient":"left","values":[0,500,1000,1500],"format":"d","tickSize":-8,"labelPadding":15,"labelFontSize":12.5,"title":null}},"y2":{"datum":0}}},
   {"data":{"name":"rp1"},"mark":{"type":"line","interpolate":"step-after","color":"#1a1a1a","strokeWidth":1,"clip":true},"encoding":{"x":{"field":"t","type":"quantitative"},"y":{"field":"v","type":"quantitative"}}},
   {"data":{"values":[{}]},"mark":{"type":"rule","color":"#000","strokeDash":[4,3],"strokeWidth":1},"encoding":{"y":{"datum":0}}},
   {"data":{"name":"rv"},"mark":{"type":"rule","color":"#000","strokeDash":[6,3,1,3],"strokeWidth":1},"encoding":{"x":{"field":"t","type":"quantitative"}}},
   {"data":{"values":[{}]},"mark":{"type":"rule","color":"#000","strokeDash":[5,4],"strokeWidth":1},"encoding":{"x":{"datum":3.6}}},
   {"data":{"values":[{}]},"mark":{"type":"text","text":["NaI₃ + NaI₄","(8 keV-260 keV)"],"align":"left","baseline":"top","fontSize":11,"fontWeight":"bold","lineHeight":14},"encoding":{"x":{"datum":-16.6},"y":{"datum":1800}}},
   {"data":{"values":[{}]},"mark":{"type":"text","text":"0.0","angle":285,"align":"left","baseline":"middle","fontSize":12,"fontStyle":"italic"},"encoding":{"x":{"datum":-0.95},"y":{"datum":1286}}},
   {"data":{"values":[{}]},"mark":{"type":"text","text":"3.6","angle":285,"align":"left","baseline":"middle","fontSize":12,"fontStyle":"italic"},"encoding":{"x":{"datum":2.8},"y":{"datum":1514}}},
   {"data":{"values":[{}]},"mark":{"type":"text","text":"7.7","angle":285,"align":"left","baseline":"middle","fontSize":12,"fontStyle":"italic"},"encoding":{"x":{"datum":6.7},"y":{"datum":1329}}},
   {"data":{"values":[{}]},"mark":{"type":"text","text":"15.8","angle":285,"align":"left","baseline":"middle","fontSize":12,"fontStyle":"italic"},"encoding":{"x":{"datum":15.0},"y":{"datum":971}}},
   {"data":{"values":[{}]},"mark":{"type":"text","text":"54.7","angle":285,"align":"left","baseline":"middle","fontSize":12,"fontStyle":"italic"},"encoding":{"x":{"datum":54.1},"y":{"datum":300}}},
   {"data":{"values":[{}]},"mark":{"type":"text","text":"100.8","angle":285,"align":"left","baseline":"middle","fontSize":12,"fontStyle":"italic"},"encoding":{"x":{"datum":100},"y":{"datum":229}}},
   {"data":{"name":"rl"},"mark":{"type":"text","fontSize":16,"align":"center","baseline":"middle"},"encoding":{"x":{"field":"t","type":"quantitative"},"y":{"datum":150},"text":{"field":"s"}}},
   {"data":{"values":[{}]},"mark":{"type":"rect","fill":"#fff","stroke":"#008000","strokeWidth":2},"encoding":{"x":{"datum":-54.2},"x2":{"datum":-12.35},"y":{"datum":1900},"y2":{"datum":2743}}},
   {"data":{"values":[{}]},"mark":{"type":"text","text":"8-260keV","fontSize":50,"color":"#008000","align":"center","baseline":"middle"},"encoding":{"x":{"datum":-33.3},"y":{"datum":2321}}}
  ]},
  {"data":{"values":[{}]},"mark":{"type":"rule","strokeOpacity":0},"encoding":{"y":{"datum":0,"type":"quantitative","scale":{"domain":[-400,4114],"nice":false,"zero":false},"axis":{"orient":"right","values":[0,1000,2000,3000],"format":"d","tickSize":-8,"labelPadding":14,"labelFontSize":12.5,"title":"Counts/sec","titleFontSize":13.5,"titlePadding":7}}}},
  {"layer":[
   {"data":{"values":[{}]},"mark":{"type":"rect","fill":"#fff","stroke":"#000","strokeWidth":1.5},"encoding":{"x":{"datum":0,"type":"quantitative","scale":{"domain":[-36.51,18.71],"nice":false,"zero":false},"axis":{"orient":"bottom","offset":-77,"values":[0,5,10,15],"format":"d","tickSize":4,"labelPadding":1,"labelFontSize":12.5,"title":"Time since trigger (s)","titleFontSize":12.5,"titlePadding":2,"titleX":588}},"x2":{"datum":15.4},"y":{"datum":0,"type":"quantitative","scale":{"domain":[-1778,1870],"nice":false,"zero":false},"axis":{"orient":"left","offset":-486,"values":[0,500,1000,1500],"format":"d","tickSize":4,"labelPadding":1,"labelFontSize":12,"title":"Counts/bin","titleFontSize":12,"titlePadding":2,"titleY":47}},"y2":{"datum":1570}}},
   {"data":{"name":"ri1"},"mark":{"type":"area","interpolate":"step-after","color":"#d0d0d0","opacity":0.55},"encoding":{"x":{"field":"t","type":"quantitative"},"y":{"field":"v","type":"quantitative"},"y2":{"datum":0}}},
   {"data":{"name":"ri1"},"mark":{"type":"line","interpolate":"step-after","color":"#000","strokeWidth":1.3},"encoding":{"x":{"field":"t","type":"quantitative"},"y":{"field":"v","type":"quantitative"}}},
   {"data":{"name":"iv"},"mark":{"type":"rule","color":"#000","strokeDash":[6,3,1,3],"strokeWidth":1},"encoding":{"x":{"field":"t","type":"quantitative"},"y":{"datum":0},"y2":{"datum":1570}}}
  ]}
 ],"resolve":{"scale":{"x":"independent","y":"independent"}}},
 {"width":753,"height":167,"layer":[
  {"layer":[
   {"data":{"name":"lp2"},"mark":{"type":"area","interpolate":"step-after","color":"#2a18cc","clip":true},"encoding":{"x":{"field":"t","type":"quantitative","scale":{"domain":[-0.5,2],"nice":false,"zero":false},"axis":{"orient":"bottom","values":[-0.5,0,0.5,1,1.5,2],"labels":false,"tickSize":-8,"title":null}},"y":{"field":"v","type":"quantitative","scale":{"domain":[-22.9,215.7],"nice":false,"zero":false},"axis":{"orient":"left","values":[0,50,100,150,200],"format":"d","tickSize":-8,"labelPadding":16,"labelFontSize":15,"title":"Counts/bin","titleFontSize":15,"titlePadding":11}},"y2":{"datum":0}}},
   {"data":{"values":[{}]},"mark":{"type":"rule","color":"#000","strokeDash":[4,3],"strokeWidth":1},"encoding":{"y":{"datum":0}}},
   {"data":{"values":[{}]},"mark":{"type":"rule","color":"#c4c4c4","strokeWidth":7},"encoding":{"x":{"datum":0}}},
   {"data":{"values":[{}]},"mark":{"type":"rule","color":"#8c8c8c","strokeWidth":5},"encoding":{"x":{"datum":0.83}}},
   {"data":{"name":"lp2"},"mark":{"type":"line","interpolate":"step-after","color":"#1a1a1a","strokeWidth":1,"clip":true},"encoding":{"x":{"field":"t","type":"quantitative"},"y":{"field":"v","type":"quantitative"}}},
   {"data":{"values":[{}]},"mark":{"type":"rule","color":"#000","strokeDash":[6,2,1,2],"strokeWidth":1},"encoding":{"x":{"datum":-0.025}}},
   {"data":{"values":[{}]},"mark":{"type":"rule","color":"#e0203c","strokeDash":[7,2,1.5,2],"strokeWidth":1.5},"encoding":{"x":{"datum":0.53}}},
   {"data":{"values":[{}]},"mark":{"type":"rule","color":"#2e9e2e","strokeDash":[4,3],"strokeWidth":1},"encoding":{"x":{"datum":0.65}}},
   {"data":{"values":[{}]},"mark":{"type":"rule","color":"#2233bb","strokeDash":[6,2,1,2],"strokeWidth":1.5},"encoding":{"x":{"datum":0.73}}},
   {"data":{"values":[{}]},"mark":{"type":"text","text":["GBM BGOs","(0.26–5 MeV)"],"align":"left","baseline":"top","fontSize":15,"fontWeight":"bold","lineHeight":19},"encoding":{"x":{"datum":-0.46},"y":{"datum":208}}}
  ]},
  {"data":{"values":[{}]},"mark":{"type":"rule","strokeOpacity":0},"encoding":{"y":{"datum":0,"type":"quantitative","scale":{"domain":[-2290,21570],"nice":false,"zero":false},"axis":{"orient":"right","values":[0,5000,10000,15000,20000],"format":"d","tickSize":-8,"labelPadding":12,"labelFontSize":16.5,"title":"Counts/sec","titleFontSize":15,"titlePadding":9}}}}
 ],"resolve":{"scale":{"y":"independent"}}},
 {"width":735,"height":167,"layer":[
  {"layer":[
   {"data":{"name":"rp2"},"mark":{"type":"area","interpolate":"step-after","color":"#2020cc","clip":true},"encoding":{"x":{"field":"t","type":"quantitative","scale":{"domain":[-20,105],"nice":false,"zero":false},"axis":{"orient":"bottom","values":[-20,0,20,40,60,80,100],"labels":false,"tickSize":-8,"title":null}},"y":{"field":"v","type":"quantitative","scale":{"domain":[-129,613],"nice":false,"zero":false},"axis":{"orient":"left","values":[0,200,400],"format":"d","tickSize":-8,"labelPadding":15,"labelFontSize":12.5,"title":null}},"y2":{"datum":0}}},
   {"data":{"name":"rp2"},"mark":{"type":"line","interpolate":"step-after","color":"#1a1a1a","strokeWidth":1,"clip":true},"encoding":{"x":{"field":"t","type":"quantitative"},"y":{"field":"v","type":"quantitative"}}},
   {"data":{"values":[{}]},"mark":{"type":"rule","color":"#000","strokeDash":[4,3],"strokeWidth":1},"encoding":{"y":{"datum":0}}},
   {"data":{"name":"rv"},"mark":{"type":"rule","color":"#000","strokeDash":[6,3,1,3],"strokeWidth":1},"encoding":{"x":{"field":"t","type":"quantitative"}}},
   {"data":{"values":[{}]},"mark":{"type":"rule","color":"#000","strokeDash":[5,4],"strokeWidth":1},"encoding":{"x":{"datum":3.6}}},
   {"data":{"values":[{}]},"mark":{"type":"text","text":["BGO₀","(260 keV-5 MeV)"],"align":"left","baseline":"top","fontSize":11,"fontWeight":"bold","lineHeight":14},"encoding":{"x":{"datum":-17.3},"y":{"datum":560}}},
   {"data":{"values":[{}]},"mark":{"type":"rect","fill":"#fff","stroke":"#0000ff","strokeWidth":2},"encoding":{"x":{"datum":-56.05},"x2":{"datum":-14.2},"y":{"datum":373},"y2":{"datum":649}}},
   {"data":{"values":[{}]},"mark":{"type":"text","text":"0.26-5MeV","fontSize":49,"color":"#0000ff","align":"center","baseline":"middle"},"encoding":{"x":{"datum":-35.1},"y":{"datum":511}}}
  ]},
  {"data":{"values":[{}]},"mark":{"type":"rule","strokeOpacity":0},"encoding":{"y":{"datum":0,"type":"quantitative","scale":{"domain":[-258,1226],"nice":false,"zero":false},"axis":{"orient":"right","values":[0,500,1000],"format":"d","tickSize":-8,"labelPadding":14,"labelFontSize":12.5,"title":"Counts/sec","titleFontSize":13.5,"titlePadding":7}}}},
  {"layer":[
   {"data":{"values":[{}]},"mark":{"type":"rect","fill":"#fff","stroke":"#000","strokeWidth":1.5},"encoding":{"x":{"datum":0,"type":"quantitative","scale":{"domain":[-36.51,18.71],"nice":false,"zero":false},"axis":{"orient":"bottom","offset":-80,"values":[0,5,10,15],"format":"d","tickSize":4,"labelPadding":1,"labelFontSize":12.5,"title":"Time since trigger (s)","titleFontSize":12.5,"titlePadding":2,"titleX":588}},"x2":{"datum":15.4},"y":{"datum":0,"type":"quantitative","scale":{"domain":[-548.7,596.6],"nice":false,"zero":false},"axis":{"orient":"left","offset":-486,"values":[0,200,400],"format":"d","tickSize":4,"labelPadding":1,"labelFontSize":12,"title":"Counts/bin","titleFontSize":12,"titlePadding":2,"titleY":52}},"y2":{"datum":480}}},
   {"data":{"name":"ri2"},"mark":{"type":"area","interpolate":"step-after","color":"#d0d0d0","opacity":0.55},"encoding":{"x":{"field":"t","type":"quantitative"},"y":{"field":"v","type":"quantitative"},"y2":{"datum":0}}},
   {"data":{"name":"ri2"},"mark":{"type":"line","interpolate":"step-after","color":"#000","strokeWidth":1.3},"encoding":{"x":{"field":"t","type":"quantitative"},"y":{"field":"v","type":"quantitative"}}},
   {"data":{"name":"iv"},"mark":{"type":"rule","color":"#000","strokeDash":[6,3,1,3],"strokeWidth":1},"encoding":{"x":{"field":"t","type":"quantitative"},"y":{"datum":0},"y2":{"datum":480}}}
  ]}
 ],"resolve":{"scale":{"x":"independent","y":"independent"}}},
 {"width":753,"height":166,"layer":[
  {"layer":[
   {"data":{"name":"lp3"},"mark":{"type":"area","interpolate":"step-after","color":"#3ee0c8","clip":true},"encoding":{"x":{"field":"t","type":"quantitative","scale":{"domain":[-0.5,2],"nice":false,"zero":false},"axis":{"orient":"bottom","values":[-0.5,0,0.5,1,1.5,2],"labels":false,"tickSize":-8,"title":null}},"y":{"field":"v","type":"quantitative","scale":{"domain":[-0.68,55.6],"nice":false,"zero":false},"axis":{"orient":"left","values":[0,20,40],"format":"d","tickSize":-8,"labelPadding":16,"labelFontSize":15,"title":"Counts/bin","titleFontSize":15,"titlePadding":11}},"y2":{"datum":0}}},
   {"data":{"values":[{}]},"mark":{"type":"rule","color":"#c4c4c4","strokeWidth":7},"encoding":{"x":{"datum":0}}},
   {"data":{"values":[{}]},"mark":{"type":"rule","color":"#8c8c8c","strokeWidth":5},"encoding":{"x":{"datum":0.83}}},
   {"data":{"name":"lp3"},"mark":{"type":"line","interpolate":"step-after","color":"#1a1a1a","strokeWidth":1,"clip":true},"encoding":{"x":{"field":"t","type":"quantitative"},"y":{"field":"v","type":"quantitative"}}},
   {"data":{"values":[{}]},"mark":{"type":"rule","color":"#000","strokeWidth":2},"encoding":{"y":{"datum":0}}},
   {"data":{"values":[{}]},"mark":{"type":"rule","color":"#000","strokeDash":[6,2,1,2],"strokeWidth":1},"encoding":{"x":{"datum":-0.025}}},
   {"data":{"values":[{}]},"mark":{"type":"rule","color":"#e0203c","strokeDash":[7,2,1.5,2],"strokeWidth":1.5},"encoding":{"x":{"datum":0.53}}},
   {"data":{"values":[{}]},"mark":{"type":"rule","color":"#2e9e2e","strokeDash":[4,3],"strokeWidth":1},"encoding":{"x":{"datum":0.65}}},
   {"data":{"values":[{}]},"mark":{"type":"rule","color":"#2233bb","strokeDash":[6,2,1,2],"strokeWidth":1.5},"encoding":{"x":{"datum":0.73}}},
   {"data":{"values":[{}]},"mark":{"type":"text","text":["LAT","(All events)"],"align":"left","baseline":"top","fontSize":15,"fontWeight":"bold","lineHeight":19},"encoding":{"x":{"datum":-0.46},"y":{"datum":50.5}}}
  ]},
  {"data":{"values":[{}]},"mark":{"type":"rule","strokeOpacity":0},"encoding":{"y":{"datum":0,"type":"quantitative","scale":{"domain":[-68,5560],"nice":false,"zero":false},"axis":{"orient":"right","values":[0,2000,4000],"format":"d","tickSize":-8,"labelPadding":12,"labelFontSize":16.5,"title":"Counts/sec","titleFontSize":15,"titlePadding":9}}}}
 ],"resolve":{"scale":{"y":"independent"}}},
 {"width":735,"height":166,"layer":[
  {"layer":[
   {"data":{"name":"rp3"},"mark":{"type":"area","interpolate":"step-after","color":"#2ee6e6","clip":true},"encoding":{"x":{"field":"t","type":"quantitative","scale":{"domain":[-20,105],"nice":false,"zero":false},"axis":{"orient":"bottom","values":[-20,0,20,40,60,80,100],"labels":false,"tickSize":-8,"title":null}},"y":{"field":"v","type":"quantitative","scale":{"domain":[-35.9,389.7],"nice":false,"zero":false},"axis":{"orient":"left","values":[0,100,200,300],"format":"d","tickSize":-8,"labelPadding":15,"labelFontSize":12.5,"title":null}},"y2":{"datum":0}}},
   {"data":{"name":"rp3"},"mark":{"type":"line","interpolate":"step-after","color":"#1a1a1a","strokeWidth":1,"clip":true},"encoding":{"x":{"field":"t","type":"quantitative"},"y":{"field":"v","type":"quantitative"}}},
   {"data":{"values":[{}]},"mark":{"type":"rule","color":"#000","strokeDash":[4,3],"strokeWidth":1},"encoding":{"y":{"datum":0}}},
   {"data":{"name":"rv"},"mark":{"type":"rule","color":"#000","strokeDash":[6,3,1,3],"strokeWidth":1},"encoding":{"x":{"field":"t","type":"quantitative"}}},
   {"data":{"values":[{}]},"mark":{"type":"rule","color":"#000","strokeDash":[5,4],"strokeWidth":1},"encoding":{"x":{"datum":3.6}}},
   {"data":{"values":[{}]},"mark":{"type":"text","text":["LAT","(all events)"],"align":"left","baseline":"top","fontSize":11,"fontWeight":"bold","lineHeight":14},"encoding":{"x":{"datum":-17.3},"y":{"datum":360}}},
   {"data":{"values":[{}]},"mark":{"type":"rect","fill":"#fff","stroke":"#00f0ff","strokeWidth":2},"encoding":{"x":{"datum":-58.6},"x2":{"datum":-0.27},"y":{"datum":205},"y2":{"datum":392}}},
   {"data":{"values":[{}]},"mark":{"type":"text","text":"LAT all events","fontSize":50,"color":"#10eaf5","align":"center","baseline":"middle"},"encoding":{"x":{"datum":-29.4},"y":{"datum":298}}}
  ]},
  {"data":{"values":[{}]},"mark":{"type":"rule","strokeOpacity":0},"encoding":{"y":{"datum":0,"type":"quantitative","scale":{"domain":[-71.8,779.4],"nice":false,"zero":false},"axis":{"orient":"right","values":[0,200,400,600],"format":"d","tickSize":-8,"labelPadding":14,"labelFontSize":12.5,"title":"Counts/sec","titleFontSize":13.5,"titlePadding":7}}}},
  {"layer":[
   {"data":{"values":[{}]},"mark":{"type":"rect","fill":"#fff","stroke":"#000","strokeWidth":1.5},"encoding":{"x":{"datum":0,"type":"quantitative","scale":{"domain":[-36.51,18.71],"nice":false,"zero":false},"axis":{"orient":"bottom","offset":-79,"values":[0,5,10,15],"format":"d","tickSize":4,"labelPadding":1,"labelFontSize":12.5,"title":"Time since trigger (s)","titleFontSize":12.5,"titlePadding":2,"titleX":588}},"x2":{"datum":15.4},"y":{"datum":0,"type":"quantitative","scale":{"domain":[-406.4,447.4],"nice":false,"zero":false},"axis":{"orient":"left","offset":-486,"values":[0,100,200,300],"format":"d","tickSize":4,"labelPadding":1,"labelFontSize":12,"title":"Counts/bin","titleFontSize":12,"titlePadding":2,"titleY":52}},"y2":{"datum":360}}},
   {"data":{"name":"ri3"},"mark":{"type":"area","interpolate":"step-after","color":"#d0d0d0","opacity":0.55},"encoding":{"x":{"field":"t","type":"quantitative"},"y":{"field":"v","type":"quantitative"},"y2":{"datum":0}}},
   {"data":{"name":"ri3"},"mark":{"type":"line","interpolate":"step-after","color":"#000","strokeWidth":1.3},"encoding":{"x":{"field":"t","type":"quantitative"},"y":{"field":"v","type":"quantitative"}}},
   {"data":{"name":"iv"},"mark":{"type":"rule","color":"#000","strokeDash":[6,3,1,3],"strokeWidth":1},"encoding":{"x":{"field":"t","type":"quantitative"},"y":{"datum":0},"y2":{"datum":360}}}
  ]}
 ],"resolve":{"scale":{"x":"independent","y":"independent"}}},
 {"width":753,"height":167,"layer":[
  {"layer":[
   {"data":{"name":"lp4"},"mark":{"type":"area","interpolate":"step-after","color":"#f01818","clip":true},"encoding":{"x":{"field":"t","type":"quantitative","scale":{"domain":[-0.5,2],"nice":false,"zero":false},"axis":{"orient":"bottom","values":[-0.5,0,0.5,1,1.5,2],"labels":false,"tickSize":-8,"title":null}},"y":{"field":"v","type":"quantitative","scale":{"domain":[-0.14,5.72],"nice":false,"zero":false},"axis":{"orient":"left","values":[0,2,4],"format":"d","tickSize":-8,"labelPadding":16,"labelFontSize":15,"title":"Counts/bin","titleFontSize":15,"titlePadding":11}},"y2":{"datum":0}}},
   {"data":{"values":[{}]},"mark":{"type":"rule","color":"#c4c4c4","strokeWidth":7},"encoding":{"x":{"datum":0}}},
   {"data":{"values":[{}]},"mark":{"type":"rule","color":"#8c8c8c","strokeWidth":5},"encoding":{"x":{"datum":0.83}}},
   {"data":{"name":"lp4"},"mark":{"type":"line","interpolate":"step-after","color":"#3a0a0a","strokeWidth":1,"clip":true},"encoding":{"x":{"field":"t","type":"quantitative"},"y":{"field":"v","type":"quantitative"}}},
   {"data":{"values":[{}]},"mark":{"type":"rule","color":"#000","strokeWidth":2},"encoding":{"y":{"datum":0}}},
   {"data":{"values":[{}]},"mark":{"type":"rule","color":"#000","strokeDash":[6,2,1,2],"strokeWidth":1},"encoding":{"x":{"datum":-0.025}}},
   {"data":{"values":[{}]},"mark":{"type":"rule","color":"#e0203c","strokeDash":[7,2,1.5,2],"strokeWidth":1.5},"encoding":{"x":{"datum":0.53}}},
   {"data":{"values":[{}]},"mark":{"type":"rule","color":"#2e9e2e","strokeDash":[4,3],"strokeWidth":1},"encoding":{"x":{"datum":0.65}}},
   {"data":{"values":[{}]},"mark":{"type":"rule","color":"#2233bb","strokeDash":[6,2,1,2],"strokeWidth":1.5},"encoding":{"x":{"datum":0.73}}},
   {"data":{"values":[{}]},"mark":{"type":"text","text":["LAT","(> 100 MeV)"],"align":"left","baseline":"top","fontSize":15,"fontWeight":"bold","lineHeight":19},"encoding":{"x":{"datum":-0.46},"y":{"datum":5.4}}}
  ]},
  {"data":{"values":[{}]},"mark":{"type":"rule","strokeOpacity":0},"encoding":{"y":{"datum":0,"type":"quantitative","scale":{"domain":[-14,572],"nice":false,"zero":false},"axis":{"orient":"right","values":[0,200,400],"format":"d","tickSize":-8,"labelPadding":12,"labelFontSize":16.5,"title":"Counts/sec","titleFontSize":15,"titlePadding":9}}}}
 ],"resolve":{"scale":{"y":"independent"}}},
 {"width":735,"height":167,"layer":[
  {"layer":[
   {"data":{"name":"rp4"},"mark":{"type":"area","interpolate":"step-after","color":"#f01818","clip":true},"encoding":{"x":{"field":"t","type":"quantitative","scale":{"domain":[-20,105],"nice":false,"zero":false},"axis":{"orient":"bottom","values":[-20,0,20,40,60,80,100],"labels":false,"tickSize":-8,"title":null}},"y":{"field":"v","type":"quantitative","scale":{"domain":[-0.714,10.13],"nice":false,"zero":false},"axis":{"orient":"left","values":[0,5],"format":"d","tickSize":-8,"labelPadding":15,"labelFontSize":12.5,"title":null}},"y2":{"datum":0}}},
   {"data":{"name":"rp4"},"mark":{"type":"line","interpolate":"step-after","color":"#3a0a0a","strokeWidth":1,"clip":true},"encoding":{"x":{"field":"t","type":"quantitative"},"y":{"field":"v","type":"quantitative"}}},
   {"data":{"values":[{}]},"mark":{"type":"rule","color":"#000","strokeDash":[4,3],"strokeWidth":1},"encoding":{"y":{"datum":0}}},
   {"data":{"name":"rv"},"mark":{"type":"rule","color":"#000","strokeDash":[6,3,1,3],"strokeWidth":1},"encoding":{"x":{"field":"t","type":"quantitative"}}},
   {"data":{"values":[{}]},"mark":{"type":"rule","color":"#000","strokeDash":[5,4],"strokeWidth":1},"encoding":{"x":{"datum":3.6}}},
   {"data":{"values":[{}]},"mark":{"type":"text","text":["LAT","(>100 MeV)"],"align":"left","baseline":"top","fontSize":11,"fontWeight":"bold","lineHeight":14},"encoding":{"x":{"datum":-18},"y":{"datum":8.6}}},
   {"data":{"values":[{}]},"mark":{"type":"rect","fill":"#fff","stroke":"#ff2a00","strokeWidth":2},"encoding":{"x":{"datum":-53.7},"x2":{"datum":-7.9},"y":{"datum":5.45},"y2":{"datum":9.61}}},
   {"data":{"values":[{}]},"mark":{"type":"text","text":">100 MeV","fontSize":51,"color":"#ff0000","align":"center","baseline":"middle"},"encoding":{"x":{"datum":-30.8},"y":{"datum":7.53}}}
  ]},
  {"data":{"values":[{}]},"mark":{"type":"rule","strokeOpacity":0},"encoding":{"y":{"datum":0,"type":"quantitative","scale":{"domain":[-1.43,20.26],"nice":false,"zero":false},"axis":{"orient":"right","values":[0,5,10,15],"format":"d","tickSize":-8,"labelPadding":14,"labelFontSize":12.5,"title":"Counts/sec","titleFontSize":13.5,"titlePadding":7}}}},
  {"layer":[
   {"data":{"values":[{}]},"mark":{"type":"rect","fill":"#fff","stroke":"#000","strokeWidth":1.5},"encoding":{"x":{"datum":0,"type":"quantitative","scale":{"domain":[-36.51,18.71],"nice":false,"zero":false},"axis":{"orient":"bottom","offset":-78,"values":[0,5,10,15],"format":"d","tickSize":4,"labelPadding":1,"labelFontSize":12.5,"title":"Time since trigger (s)","titleFontSize":12.5,"titlePadding":2,"titleX":588}},"x2":{"datum":15.4},"y":{"datum":0,"type":"quantitative","scale":{"domain":[-10.9,12.44],"nice":false,"zero":false},"axis":{"orient":"left","offset":-486,"values":[0,5,10],"format":"d","tickSize":4,"labelPadding":1,"labelFontSize":12,"title":"Counts/bin","titleFontSize":12,"titlePadding":2,"titleY":52}},"y2":{"datum":10.2}}},
   {"data":{"name":"ri4"},"mark":{"type":"area","interpolate":"step-after","color":"#d0d0d0","opacity":0.55},"encoding":{"x":{"field":"t","type":"quantitative"},"y":{"field":"v","type":"quantitative"},"y2":{"datum":0}}},
   {"data":{"name":"ri4"},"mark":{"type":"line","interpolate":"step-after","color":"#000","strokeWidth":1.3},"encoding":{"x":{"field":"t","type":"quantitative"},"y":{"field":"v","type":"quantitative"}}},
   {"data":{"name":"iv"},"mark":{"type":"rule","color":"#000","strokeDash":[6,3,1,3],"strokeWidth":1},"encoding":{"x":{"field":"t","type":"quantitative"},"y":{"datum":0},"y2":{"datum":10.2}}}
  ]}
 ],"resolve":{"scale":{"x":"independent","y":"independent"}}},
 {"width":753,"height":132,"layer":[
  {"layer":[
   {"data":{"name":"lp5"},"mark":{"type":"area","interpolate":"step-after","color":"#cc22cc","clip":true},"encoding":{"x":{"field":"t","type":"quantitative","scale":{"domain":[-0.5,2],"nice":false,"zero":false},"axis":{"orient":"bottom","values":[-0.5,0,0.5,1,1.5,2],"format":"~g","tickSize":-8,"labelPadding":12,"labelFontSize":16,"title":"Time since GBM trigger (263607781.97) (sec)","titleFontSize":15.5,"titlePadding":4}},"y":{"field":"v","type":"quantitative","scale":{"domain":[-0.048,3.095],"nice":false,"zero":false},"axis":{"orient":"left","values":[0,1,2,3],"format":"d","tickSize":-8,"labelPadding":16,"labelFontSize":15,"title":"Counts/bin","titleFontSize":15,"titlePadding":11}},"y2":{"datum":0}}},
   {"data":{"values":[{}]},"mark":{"type":"rule","color":"#c4c4c4","strokeWidth":7},"encoding":{"x":{"datum":0}}},
   {"data":{"values":[{}]},"mark":{"type":"rule","color":"#8c8c8c","strokeWidth":5},"encoding":{"x":{"datum":0.83}}},
   {"data":{"name":"lp5"},"mark":{"type":"line","interpolate":"step-after","color":"#2a0a3a","strokeWidth":1.5,"clip":true},"encoding":{"x":{"field":"t","type":"quantitative"},"y":{"field":"v","type":"quantitative"}}},
   {"data":{"values":[{}]},"mark":{"type":"rule","color":"#000","strokeDash":[6,2,1,2],"strokeWidth":1},"encoding":{"x":{"datum":-0.025}}},
   {"data":{"values":[{}]},"mark":{"type":"rule","color":"#e0203c","strokeDash":[7,2,1.5,2],"strokeWidth":1.5},"encoding":{"x":{"datum":0.53}}},
   {"data":{"values":[{}]},"mark":{"type":"rule","color":"#2e9e2e","strokeDash":[4,3],"strokeWidth":1},"encoding":{"x":{"datum":0.65}}},
   {"data":{"values":[{}]},"mark":{"type":"rule","color":"#2233bb","strokeDash":[6,2,1,2],"strokeWidth":1.5},"encoding":{"x":{"datum":0.73}}},
   {"data":{"values":[{}]},"mark":{"type":"text","text":["LAT","(> 1 GeV)"],"align":"left","baseline":"top","fontSize":15,"fontWeight":"bold","lineHeight":19},"encoding":{"x":{"datum":-0.46},"y":{"datum":2.95}}}
  ]},
  {"data":{"name":"ld"},"mark":{"type":"point","filled":true,"color":"#000","size":30,"opacity":1},"encoding":{"x":{"field":"t","type":"quantitative"},"y":{"field":"e","type":"quantitative","scale":{"type":"log","domain":[0.847,33],"nice":false},"axis":{"orient":"right","values":[1,2,5],"format":"~g","tickSize":-8,"labelPadding":12,"labelFontSize":16.5,"title":"Energy (GeV)","titleFontSize":15,"titlePadding":9}}}}
 ],"resolve":{"scale":{"y":"independent"}}},
 {"width":735,"height":141,"layer":[
  {"layer":[
   {"data":{"name":"rp5"},"mark":{"type":"area","interpolate":"step-after","color":"#e010e0","clip":true},"encoding":{"x":{"field":"t","type":"quantitative","scale":{"domain":[-20,105],"nice":false,"zero":false},"axis":{"orient":"bottom","values":[-20,0,20,40,60,80,100],"format":"d","tickSize":-8,"labelPadding":10,"labelFontSize":13.5,"title":"Time since trigger (s)","titleFontSize":13.5,"titlePadding":3}},"y":{"field":"v","type":"quantitative","scale":{"domain":[-0.319,3.768],"nice":false,"zero":false},"axis":{"orient":"left","values":[0,1,2,3],"format":"d","tickSize":-8,"labelPadding":15,"labelFontSize":12.5,"title":null}},"y2":{"datum":0}}},
   {"data":{"name":"rp5"},"mark":{"type":"line","interpolate":"step-after","color":"#2a0a2a","strokeWidth":1,"clip":true},"encoding":{"x":{"field":"t","type":"quantitative"},"y":{"field":"v","type":"quantitative"}}},
   {"data":{"values":[{}]},"mark":{"type":"rule","color":"#000","strokeDash":[4,3],"strokeWidth":1},"encoding":{"y":{"datum":0}}},
   {"data":{"name":"rv"},"mark":{"type":"rule","color":"#000","strokeDash":[6,3,1,3],"strokeWidth":1},"encoding":{"x":{"field":"t","type":"quantitative"}}},
   {"data":{"values":[{}]},"mark":{"type":"rule","color":"#000","strokeDash":[5,4],"strokeWidth":1},"encoding":{"x":{"datum":3.6}}},
   {"data":{"values":[{}]},"mark":{"type":"text","text":["LAT","(>1 GeV)"],"align":"left","baseline":"top","fontSize":11,"fontWeight":"bold","lineHeight":14},"encoding":{"x":{"datum":-18},"y":{"datum":3.3}}},
   {"data":{"values":[{}]},"mark":{"type":"rect","fill":"#fff","stroke":"#7a0a7a","strokeWidth":2},"encoding":{"x":{"datum":-47.55},"x2":{"datum":-15.24},"y":{"datum":2.46},"y2":{"datum":4.35}}},
   {"data":{"values":[{}]},"mark":{"type":"text","text":">1GeV","fontSize":52,"color":"#800080","align":"center","baseline":"middle"},"encoding":{"x":{"datum":-31.4},"y":{"datum":3.41}}}
  ]},
  {"data":{"values":[{}]},"mark":{"type":"rule","strokeOpacity":0},"encoding":{"y":{"datum":0,"type":"quantitative","scale":{"domain":[-0.638,7.536],"nice":false,"zero":false},"axis":{"orient":"right","values":[0,2,4,6],"format":"d","tickSize":-8,"labelPadding":14,"labelFontSize":12.5,"title":"Counts/sec","titleFontSize":13.5,"titlePadding":7}}}},
  {"layer":[
   {"data":{"values":[{}]},"mark":{"type":"rect","fill":"#fff","stroke":"#000","strokeWidth":1.5},"encoding":{"x":{"datum":0,"type":"quantitative","scale":{"domain":[-36.51,18.71],"nice":false,"zero":false},"axis":{"orient":"bottom","offset":-53,"values":[0,5,10,15],"format":"d","tickSize":4,"labelPadding":1,"labelFontSize":12.5,"title":"Time since trigger (s)","titleFontSize":12.5,"titlePadding":2,"titleX":588}},"x2":{"datum":15.4},"y":{"datum":0,"type":"quantitative","scale":{"domain":[-1.194,1.983],"nice":false,"zero":false},"axis":{"orient":"left","offset":-486,"values":[0,0.5,1,1.5],"format":"~g","tickSize":4,"labelPadding":1,"labelFontSize":12,"title":"Counts/bin","titleFontSize":12,"titlePadding":2,"titleY":52.5}},"y2":{"datum":1.6}}},
   {"data":{"name":"ri5"},"mark":{"type":"area","interpolate":"step-after","color":"#d0d0d0","opacity":0.55},"encoding":{"x":{"field":"t","type":"quantitative"},"y":{"field":"v","type":"quantitative"},"y2":{"datum":0}}},
   {"data":{"name":"ri5"},"mark":{"type":"line","interpolate":"step-after","color":"#000","strokeWidth":1.3},"encoding":{"x":{"field":"t","type":"quantitative"},"y":{"field":"v","type":"quantitative"}}},
   {"data":{"name":"iv"},"mark":{"type":"rule","color":"#000","strokeDash":[6,3,1,3],"strokeWidth":1},"encoding":{"x":{"field":"t","type":"quantitative"},"y":{"datum":0},"y2":{"datum":1.6}}}
  ]}
 ],"resolve":{"scale":{"x":"independent","y":"independent"}}}
]
}
